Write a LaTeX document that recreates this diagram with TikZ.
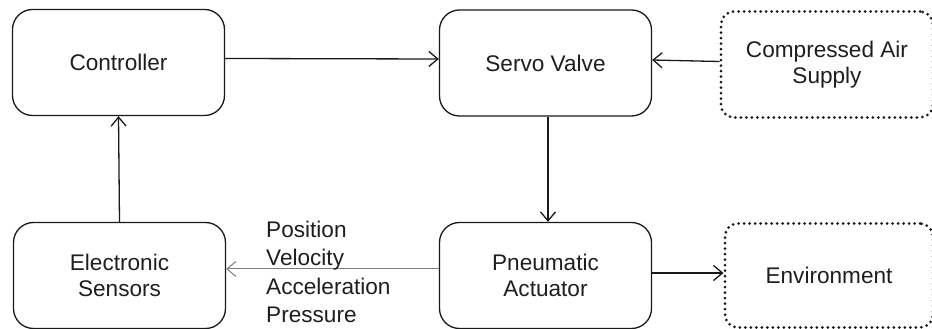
\documentclass[tikz,border=0pt]{standalone}
\usepackage{fontspec}
\setmainfont{Liberation Sans}
\usetikzlibrary{arrows.meta,positioning}
\definecolor{boxline}{RGB}{25,25,25}
\definecolor{sigline}{RGB}{125,125,125}
\definecolor{txtgray}{RGB}{30,30,30}

\begin{document}
\begin{tikzpicture}[x=1pt,y=1pt,
  block/.style={draw=boxline, line width=1.3pt, rounded corners=20pt, minimum width=212pt, minimum height=106pt,
    align=center, text=txtgray, font=\fontsize{22.6}{26}\selectfont},
  extblock/.style={block, line width=3pt, rounded corners=13pt, dash pattern=on 0pt off 5.5pt, line cap=round},
  flow/.style={draw=boxline, line width=1.3pt, -{Straight Barb[length=9pt,width=15pt]}}]
\useasboundingbox (0,0) rectangle (932,329);

% upper row
\node[block] (ctrl) at (118.5,266.5) {Controller};
\node[block] (servo) at (545.5,266) {Servo Valve};
\node[extblock, minimum width=212pt, minimum height=106pt] (air) at (827,264.5) {Compressed Air\\Supply};

% lower row
\node[block] (sens) at (119.5,53.5) {Electronic\\Sensors};
\node[block] (act) at (545.5,53.5) {Pneumatic\\Actuator};
\node[extblock, minimum width=208pt, minimum height=104pt] (env) at (829,53.5) {Environment};

% signals
\draw[flow] ([yshift=4pt]ctrl.east) -- ([yshift=4pt]servo.west);
\draw[flow] ([yshift=3pt]air.west) -- ([yshift=3pt]servo.east);
\draw[flow] ([xshift=2.5pt]servo.south) -- ([xshift=2.5pt]act.north);
\draw[flow] (sens.north) -- (ctrl.south);
\draw[flow] ([yshift=2.5pt]act.east) -- ([yshift=2.5pt]env.west);
\draw[flow, draw=sigline, line width=1pt] ([yshift=6.5pt]act.west) -- ([yshift=6.5pt]sens.east);

\node[anchor=north west, inner sep=0pt, align=left, text=txtgray, font=\fontsize{22.6}{28.3}\selectfont]
  (meas) at (266,108) {Position\\Velocity\\Acceleration\\Pressure};
\end{tikzpicture}
\end{document}
